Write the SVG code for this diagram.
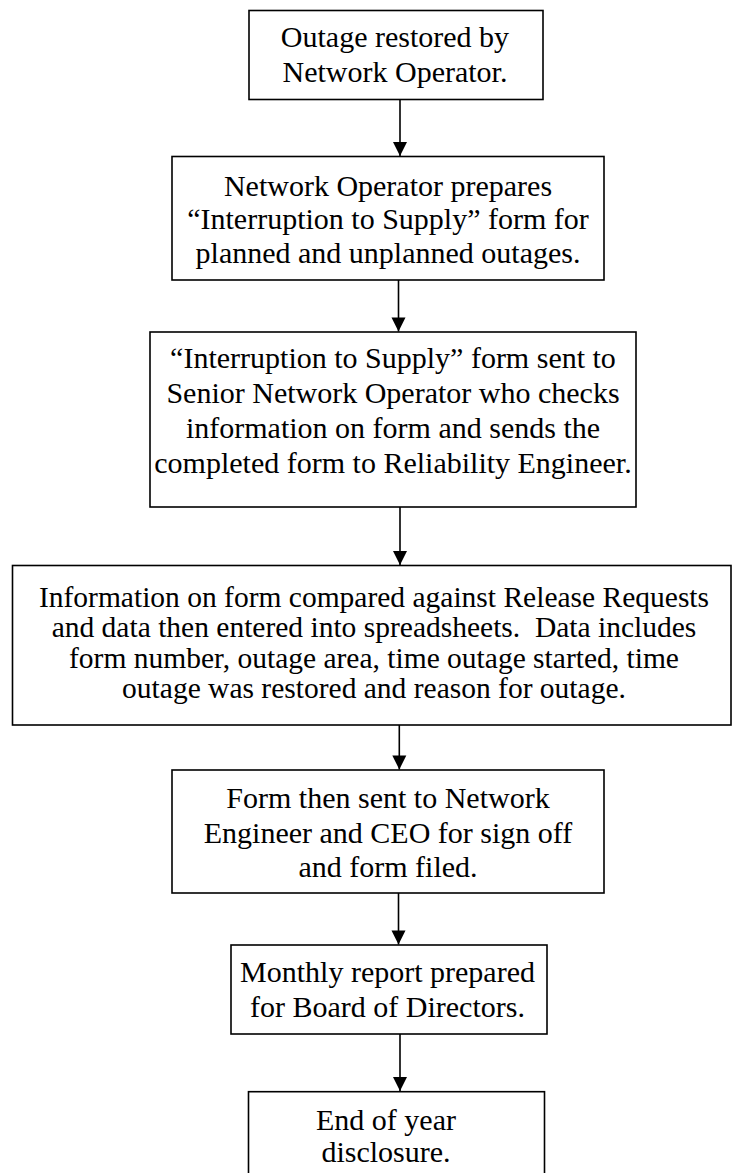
<svg xmlns="http://www.w3.org/2000/svg" width="732" height="1173" viewBox="0 0 732 1173">
<defs>
<style>
.box{fill:#fff;stroke:#000;stroke-width:1.6}
.t{font-family:"Liberation Serif","Times New Roman",serif;font-size:30px;fill:#000;text-anchor:middle}
.t4{font-size:29.5px}
.conn line{stroke:#000;stroke-width:1.6}
</style>
<marker id="ah" markerUnits="userSpaceOnUse" markerWidth="16" markerHeight="16" viewBox="0 0 16 16" refX="15" refY="8" orient="auto">
<path d="M1,1 L15,8 L1,15 Z" fill="#000"/>
</marker>
</defs>
<rect width="732" height="1173" fill="#fff"/>
<g id="n1">
<rect class="box" x="249" y="10.5" width="294" height="89"/>
<text class="t" x="395" y="46.7">Outage restored by</text>
<text class="t" x="395" y="81.7">Network Operator.</text>
</g>
<g id="n2">
<rect class="box" x="172" y="156.5" width="432" height="123.5"/>
<text class="t" x="388" y="195.5">Network Operator prepares</text>
<text class="t" x="388" y="229">“Interruption to Supply” form for</text>
<text class="t" x="388" y="262.5">planned and unplanned outages.</text>
</g>
<g id="n3">
<rect class="box" x="150" y="332" width="486" height="175"/>
<text class="t" x="393" y="368">“Interruption to Supply” form sent to</text>
<text class="t" x="393" y="403">Senior Network Operator who checks</text>
<text class="t" x="393" y="438">information on form and sends the</text>
<text class="t" x="393" y="473">completed form to Reliability Engineer.</text>
</g>
<g id="n4">
<rect class="box" x="12.5" y="565.5" width="718.5" height="159.5"/>
<text class="t t4" x="374" y="606.7">Information on form compared against Release Requests</text>
<text class="t t4" x="374" y="637.3">and data then entered into spreadsheets.&#160; Data includes</text>
<text class="t t4" x="374" y="667.7">form number, outage area, time outage started, time</text>
<text class="t t4" x="374" y="697.7">outage was restored and reason for outage.</text>
</g>
<g id="n5">
<rect class="box" x="172" y="770" width="432" height="123"/>
<text class="t" x="388" y="808">Form then sent to Network</text>
<text class="t" x="388" y="842.5">Engineer and CEO for sign off</text>
<text class="t" x="388" y="877">and form filed.</text>
</g>
<g id="n6">
<rect class="box" x="231" y="945" width="316" height="89"/>
<text class="t" x="387.5" y="981.7">Monthly report prepared</text>
<text class="t" x="387.5" y="1016.7">for Board of Directors.</text>
</g>
<g id="n7">
<rect class="box" x="248.5" y="1091.7" width="296" height="100"/>
<text class="t" x="386" y="1130">End of year</text>
<text class="t" x="386" y="1161.7">disclosure.</text>
</g>
<g id="connectors" class="conn">
<line x1="400" y1="99.5" x2="400" y2="156" marker-end="url(#ah)"/>
<line x1="398.5" y1="280" x2="398.5" y2="331.5" marker-end="url(#ah)"/>
<line x1="400" y1="507" x2="400" y2="565" marker-end="url(#ah)"/>
<line x1="399.3" y1="725" x2="399.3" y2="769.5" marker-end="url(#ah)"/>
<line x1="398.5" y1="893" x2="398.5" y2="944.5" marker-end="url(#ah)"/>
<line x1="400" y1="1034" x2="400" y2="1091" marker-end="url(#ah)"/>
</g>
</svg>
